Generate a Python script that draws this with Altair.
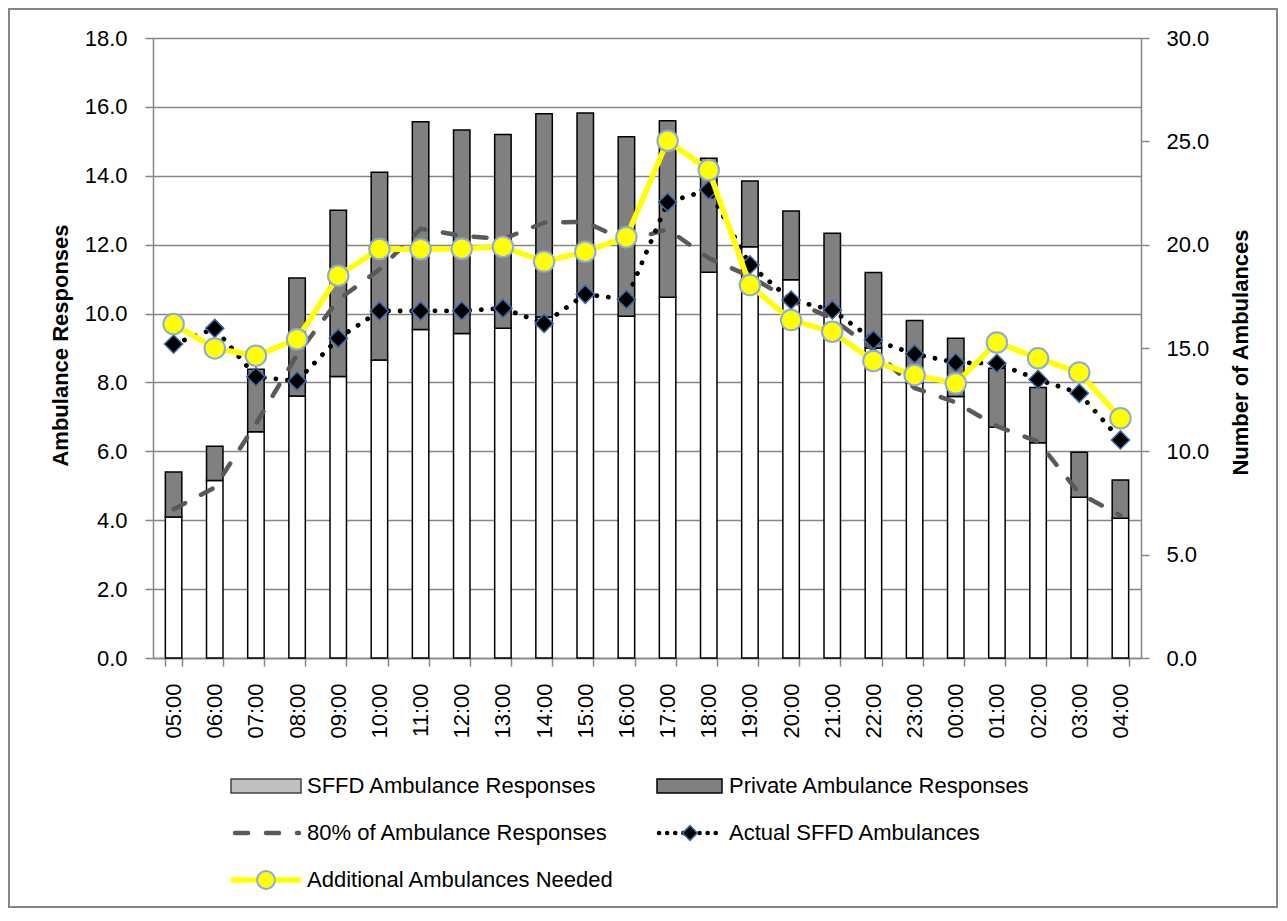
import altair as alt
import pandas as pd

hours = ["05:00", "06:00", "07:00", "08:00", "09:00", "10:00", "11:00", "12:00",
         "13:00", "14:00", "15:00", "16:00", "17:00", "18:00", "19:00", "20:00",
         "21:00", "22:00", "23:00", "00:00", "01:00", "02:00", "03:00", "04:00"]

sffd_resp = [4.09, 5.15, 6.57, 7.61, 8.17, 8.65, 9.54, 9.42, 9.57, 9.90, 10.55, 9.92,
             10.47, 11.20, 11.94, 10.98, 10.10, 9.00, 7.98, 7.59, 6.70, 6.25, 4.67, 4.06]
private_resp = [1.31, 1.00, 1.81, 3.42, 4.83, 5.45, 6.03, 5.91, 5.63, 5.90, 5.27, 5.21,
                5.13, 3.31, 1.91, 2.00, 2.23, 2.19, 1.82, 1.69, 1.71, 1.60, 1.30, 1.11]
pct80_resp = [4.32, 4.95, 6.80, 8.80, 10.40, 11.28, 12.46, 12.26, 12.16, 12.64, 12.66, 12.10,
              12.45, 11.61, 11.08, 10.38, 9.86, 8.95, 7.84, 7.42, 6.73, 6.28, 4.78, 4.14]
actual_sffd = [15.19, 15.95, 13.61, 13.40, 15.47, 16.79, 16.79, 16.80, 16.92, 16.19, 17.60, 17.35,
               22.05, 22.65, 19.02, 17.32, 16.84, 15.39, 14.71, 14.29, 14.26, 13.48, 12.81, 10.55]
needed = [16.16, 14.98, 14.63, 15.42, 18.50, 19.79, 19.78, 19.80, 19.90, 19.18, 19.66, 20.36,
          25.03, 23.61, 18.05, 16.35, 15.79, 14.37, 13.69, 13.29, 15.27, 14.50, 13.82, 11.60]

df = pd.DataFrame({
    "hour": hours,
    "sffd": sffd_resp,
    "private": private_resp,
    "pct80": pct80_resp,
    "actual": actual_sffd,
    "needed": needed,
})

FONT = "Liberation Sans"
GRAY = "#868686"

x_enc = alt.X("hour:N", sort=hours, title=None,
              scale=alt.Scale(paddingInner=0.6, paddingOuter=0.3),
              axis=alt.Axis(labelAngle=270, tickBand="extent", labelPadding=17,
                            grid=False))

left_axis = alt.Axis(values=list(range(0, 19, 2)), format=".1f",
                     title="Ambulance Responses", titleAngle=270,
                     titleX=-93, titleY=307, titleAlign="center", titleBaseline="middle",
                     grid=True, gridColor=GRAY, gridWidth=1.5, labelPadding=18)
left_scale = alt.Scale(domain=[0, 18], nice=False)

right_axis = alt.Axis(values=list(range(0, 31, 5)), format=".1f", orient="right",
                      title="Number of Ambulances", titleAngle=270,
                      titleX=99, titleY=314, titleAlign="center", titleBaseline="middle",
                      grid=False, labelPadding=17)
right_scale = alt.Scale(domain=[0, 30], nice=False)

base = alt.Chart(df).transform_calculate(total="datum.sffd + datum.private")

sffd_bar = base.mark_bar(fill="white", stroke="black", strokeWidth=1.5).encode(
    x=x_enc,
    y=alt.Y("sffd:Q", scale=left_scale, axis=left_axis),
)
private_bar = base.mark_bar(fill="#808080", stroke="black", strokeWidth=1.5).encode(
    x=x_enc,
    y=alt.Y("sffd:Q", scale=left_scale, axis=left_axis),
    y2="total:Q",
)
pct_line = base.mark_line(color="#595959", strokeWidth=4.5, strokeDash=[13, 18],
                          strokeCap="round").encode(
    x=x_enc,
    y=alt.Y("pct80:Q", scale=left_scale, axis=left_axis),
)
left = alt.layer(sffd_bar, private_bar, pct_line)

actual_line = base.mark_line(color="black", strokeWidth=4.8, strokeDash=[0.1, 11.5],
                             strokeCap="round").encode(
    x=x_enc,
    y=alt.Y("actual:Q", scale=right_scale, axis=right_axis),
)
actual_pts = base.mark_point(shape="diamond", filled=True, fill="black", stroke="#3f6aa5",
                             strokeWidth=1.5, size=330, opacity=1).encode(
    x=x_enc,
    y=alt.Y("actual:Q", scale=right_scale, axis=right_axis),
)
needed_line = base.mark_line(color="#ffff00", strokeWidth=5.5).encode(
    x=x_enc,
    y=alt.Y("needed:Q", scale=right_scale, axis=right_axis),
)
needed_pts = base.mark_point(shape="circle", filled=True, fill="#ffff00", stroke="#8eaadb",
                             strokeWidth=2, size=420, opacity=1).encode(
    x=x_enc,
    y=alt.Y("needed:Q", scale=right_scale, axis=right_axis),
)
right = alt.layer(actual_line, actual_pts, needed_line, needed_pts)

one = alt.Chart(pd.DataFrame({"k": [0]}))

border = one.mark_rect(fill="transparent", stroke=GRAY, strokeWidth=2).encode(
    x=alt.value(-144), x2=alt.value(1124), y=alt.value(-29), y2=alt.value(869))

def text_item(label, x, y):
    return one.mark_text(align="left", baseline="middle", font=FONT, fontSize=22,
                         color="black").encode(
        x=alt.value(x), y=alt.value(y), text=alt.value(label))

leg_sffd = one.mark_rect(fill="#c0c0c0", stroke="#404040", strokeWidth=1.5).encode(
    x=alt.value(78), x2=alt.value(148), y=alt.value(741), y2=alt.value(755))
leg_priv = one.mark_rect(fill="#808080", stroke="black", strokeWidth=1.5).encode(
    x=alt.value(504), x2=alt.value(569), y=alt.value(741), y2=alt.value(755))
leg_pct = one.mark_rule(color="#595959", strokeWidth=4.5, strokeDash=[13, 18],
                        strokeCap="round").encode(
    x=alt.value(82), x2=alt.value(146), y=alt.value(795))
leg_act_line = one.mark_rule(color="black", strokeWidth=4.5, strokeDash=[0.1, 8],
                             strokeCap="round").encode(
    x=alt.value(506), x2=alt.value(569), y=alt.value(795))
leg_act_pt = one.mark_point(shape="diamond", filled=True, fill="black", stroke="#3f6aa5",
                            strokeWidth=1.5, size=220, opacity=1).encode(
    x=alt.value(537), y=alt.value(795))
leg_need_line = one.mark_rule(color="#ffff00", strokeWidth=5.5).encode(
    x=alt.value(78), x2=alt.value(148), y=alt.value(842))
leg_need_pt = one.mark_point(shape="circle", filled=True, fill="#ffff00", stroke="#8eaadb",
                             strokeWidth=2, size=320, opacity=1).encode(
    x=alt.value(113), y=alt.value(842))

legend_layers = [
    leg_sffd, text_item("SFFD Ambulance Responses", 154, 748),
    leg_priv, text_item("Private Ambulance Responses", 576, 748),
    leg_pct, text_item("80% of Ambulance Responses", 154, 795),
    leg_act_line, leg_act_pt, text_item("Actual SFFD Ambulances", 576, 795),
    leg_need_line, leg_need_pt, text_item("Additional Ambulances Needed", 154, 842),
]

chart = alt.layer(border, left, right, *legend_layers).resolve_scale(
    y="independent"
).properties(
    width=988, height=620,
    padding={"left": 145, "top": 30, "right": 138, "bottom": 253},
    autosize=alt.AutoSizeParams(type="none"),
    background="white",
).configure_view(stroke=None).configure_axis(
    labelFont=FONT, labelFontSize=22, labelColor="black",
    titleFont=FONT, titleFontSize=22, titleFontWeight="bold", titleColor="black",
    domainColor=GRAY, domainWidth=1.5, tickColor=GRAY, tickWidth=1.5, tickSize=8,
)

chart.save("out.html", embed_options={"renderer": "svg", "actions": False})
